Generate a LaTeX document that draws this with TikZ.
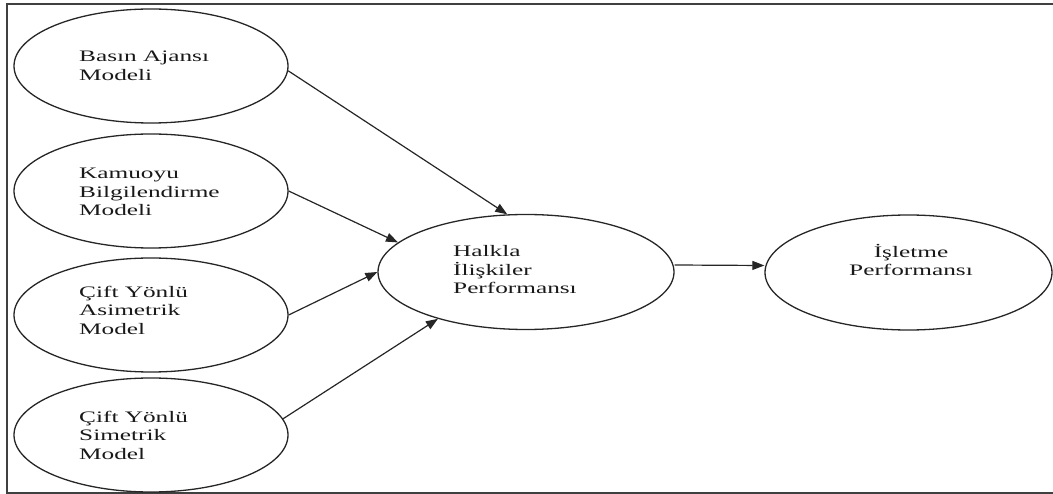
\documentclass[tikz,border=0pt]{standalone}
\usepackage{fontspec}
\setmainfont{Liberation Serif}[FakeStretch=1.58]
\usetikzlibrary{shapes.geometric,arrows.meta}
\begin{document}
\begin{tikzpicture}[x=1pt,y=-1pt,
 ell/.style={draw=black!85, line width=1.3pt, ellipse, inner sep=0pt, minimum width=274pt, minimum height=114pt},
 lbl/.style={font=\fontsize{16}{18.5}\selectfont, align=left, anchor=west, inner sep=0pt, text=black!90},
 arr/.style={draw=black!85, line width=1.2pt, -{Triangle[length=12pt,width=9pt]}}]
\useasboundingbox (0,0) rectangle (1053,494);
\draw[line width=1.8pt, draw=black!75] (1070,4) -- (7,4) -- (7,493) -- (1070,493);
\node[ell] (e1) at (151,66) {};
\node[ell] (e2) at (151,191) {};
\node[ell] (e3) at (151,315) {};
\node[ell] (e4) at (151,435) {};
\node[ell, minimum width=296pt, minimum height=115pt] (m) at (526,272) {};
\node[ell, minimum width=287pt, minimum height=115pt] (r) at (908.5,272.5) {};
\node[lbl] (t1) at (79,66) {Basın Ajansı\\Modeli};
\node[lbl] (t2) at (79,192) {Kamuoyu\\Bilgilendirme\\Modeli};
\node[lbl] (t3) at (79,310) {Çift Yönlü\\Asimetrik\\Model};
\node[lbl] (t4) at (79,435) {Çift Yönlü\\Simetrik\\Model};
\node[lbl] (tm) at (453,270) {Halkla\\İlişkiler\\Performansı};
\node[lbl, anchor=center, align=center] (tr) at (911,260) {İşletme\\Performansı};
\draw[arr] (e1.-2) -- (m.108);
\draw[arr] (e2.east) -- (m.167);
\draw[arr] (e3.east) -- (m.west);
\draw[arr] (e4.7) -- (m.208);
\draw[arr] ([yshift=7pt]m.east) -- ([yshift=7pt]r.west);
\end{tikzpicture}
\end{document}
